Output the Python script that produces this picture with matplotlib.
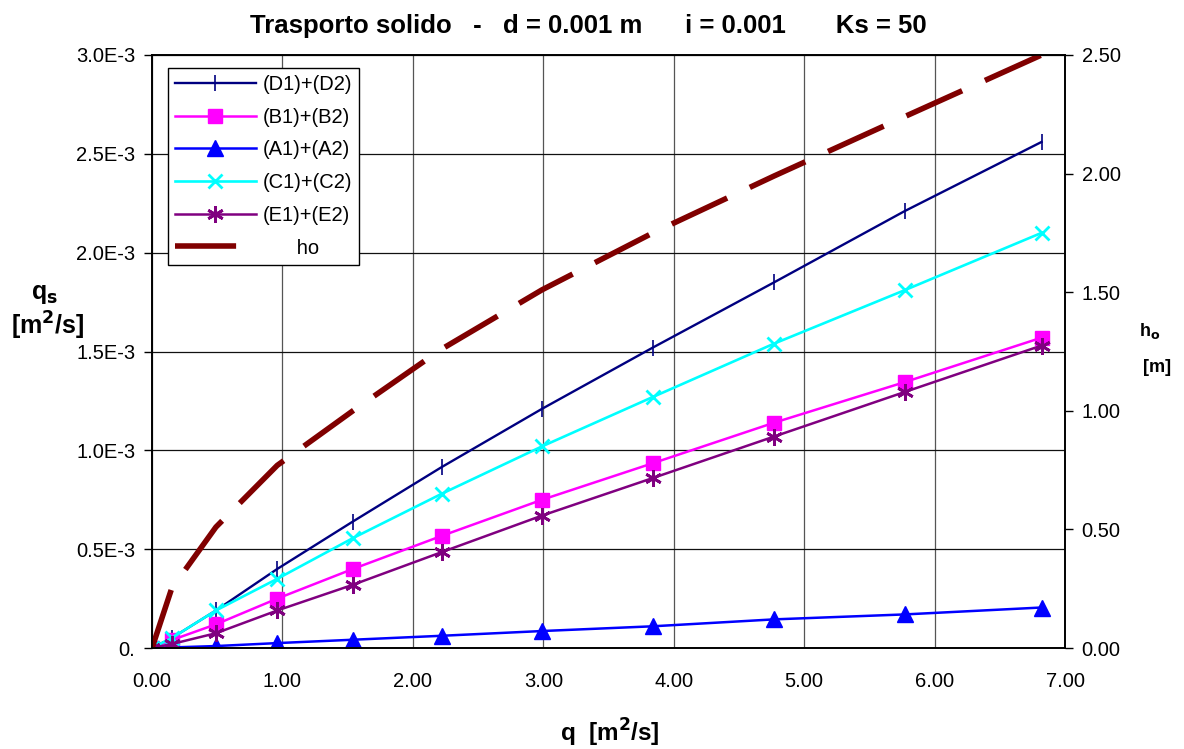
import numpy as np
import matplotlib.pyplot as plt
from matplotlib.ticker import FixedLocator, FuncFormatter

plt.rcParams['font.family'] = ['Liberation Sans', 'DejaVu Sans']

# portata q [m2/s]
q = [0.0, 0.15, 0.49, 0.96, 1.54, 2.22, 2.99, 3.84, 4.77, 5.77, 6.82]

# trasporto solido qs [m2/s] (x 1E-3)
qs_D = [0.0, 0.05, 0.19, 0.40, 0.64, 0.915, 1.21, 1.52, 1.85, 2.21, 2.56]
qs_B = [0.0, 0.04, 0.12, 0.25, 0.40, 0.567, 0.75, 0.935, 1.14, 1.345, 1.57]
qs_A = [0.0, 0.003, 0.01, 0.025, 0.042, 0.062, 0.086, 0.11, 0.145, 0.17, 0.205]
qs_C = [0.0, 0.05, 0.19, 0.35, 0.556, 0.78, 1.02, 1.27, 1.54, 1.81, 2.10]
qs_E = [0.0, 0.02, 0.075, 0.19, 0.32, 0.485, 0.67, 0.86, 1.07, 1.295, 1.53]

# tirante di moto uniforme ho [m]
ho = [0.0, 0.25, 0.51, 0.77, 1.00, 1.26, 1.51, 1.75, 1.99, 2.24, 2.50]

fig = plt.figure(figsize=(11.84, 7.49), dpi=100)
ax = fig.add_axes([0.1284, 0.1348, 0.7711, 0.7918])
ax2 = ax.twinx()

qs = lambda v: np.array(v) * 1e-3

l1, = ax.plot(q, qs(qs_D), color='#000080', lw=1.7, marker='|', ms=12, mew=1.2, label='(D1)+(D2)')
l2, = ax.plot(q, qs(qs_B), color='#ff00ff', lw=1.8, marker='s', ms=10, label='(B1)+(B2)')
l3, = ax.plot(q, qs(qs_A), color='#0000ff', lw=1.8, marker='^', ms=11, label='(A1)+(A2)')
l4, = ax.plot(q, qs(qs_C), color='#00ffff', lw=1.9, marker='x', ms=10, mew=2, label='(C1)+(C2)')
l5, = ax.plot(q, qs(qs_E), color='#800080', lw=1.8, marker=(6, 2, 0), ms=12, mew=2, label='(E1)+(E2)')
l6, = ax2.plot(q, ho, color='#800000', lw=4, dashes=(11, 4.5), label='      ho')

ax.set_xlim(0, 7)
ax.set_ylim(0, 3.0e-3)
ax2.set_ylim(0, 2.5)

ax.xaxis.set_major_locator(FixedLocator(np.arange(0, 7.01, 1.0)))
ax.xaxis.set_major_formatter(FuncFormatter(lambda v, p: f"{v:.2f}"))
ax.yaxis.set_major_locator(FixedLocator(np.arange(0, 3.01e-3, 0.5e-3)))
ax.yaxis.set_major_formatter(FuncFormatter(lambda v, p: "0." if abs(v) < 1e-9 else f"{v*1e3:.1f}E-3"))
ax2.yaxis.set_major_locator(FixedLocator(np.arange(0, 2.51, 0.5)))
ax2.yaxis.set_major_formatter(FuncFormatter(lambda v, p: f"{v:.2f}"))

ax.grid(True, axis='y', color='#111111', lw=0.9)
ax.grid(True, axis='x', color='#555555', lw=0.9)
ax.set_axisbelow(True)
for a in (ax, ax2):
    a.tick_params(labelsize=14.5, length=6, width=1, direction='out', pad=6)
    for s in a.spines.values():
        s.set_linewidth(1.2)
ax.tick_params(axis='x', length=0, pad=17)

fig.text(0.497, 0.965, "Trasporto solido   -   d = 0.001 m      i = 0.001       Ks = 50",
         ha='center', va='center', fontsize=18.5, fontweight='bold')
fig.text(0.515, 0.021, r"q  [m$^\mathbf{2}$/s]", ha='center', va='center', fontsize=17.5, fontweight='bold')
fig.text(0.038, 0.607, r"q$_\mathbf{s}$", ha='center', va='center', fontsize=18, fontweight='bold')
fig.text(0.040, 0.565, r"[m$^\mathbf{2}$/s]", ha='center', va='center', fontsize=18, fontweight='bold')
fig.text(0.971, 0.558, r"h$_\mathbf{o}$", ha='center', va='center', fontsize=13, fontweight='bold')
fig.text(0.977, 0.510, "[m]", ha='center', va='center', fontsize=13, fontweight='bold')

leg = ax2.legend(handles=[l1, l2, l3, l4, l5, l6], loc='upper left',
                 bbox_to_anchor=(0.0175, 0.978), fontsize=14.5, frameon=True,
                 fancybox=False, edgecolor='black', framealpha=1,
                 handlelength=4.0, handletextpad=0.35, borderpad=0.35, labelspacing=0.68,
                 borderaxespad=0)
leg.get_frame().set_linewidth(1)

fig.savefig("out.png", dpi=100)
